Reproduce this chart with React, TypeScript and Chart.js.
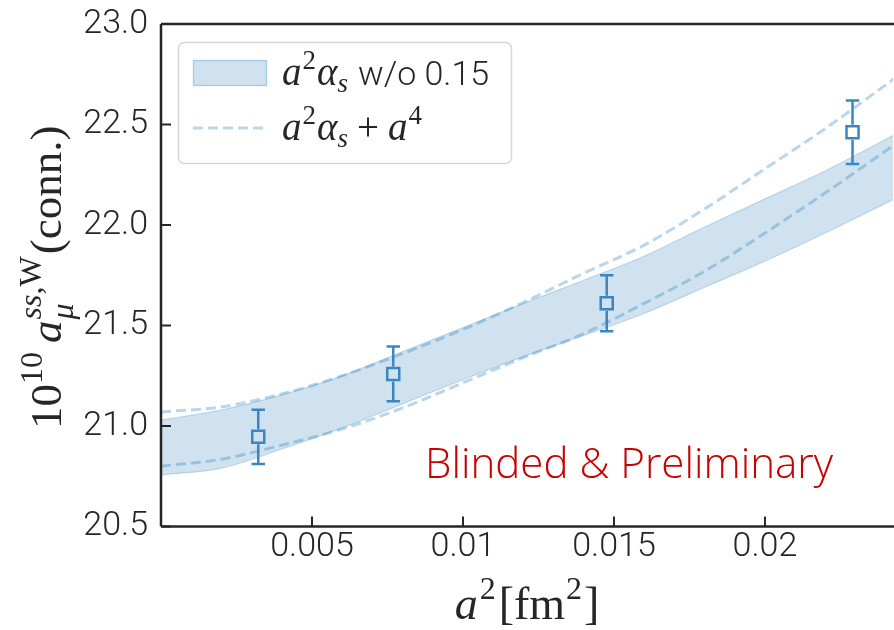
import React, { useEffect, useRef } from "react";
import { Chart, registerables } from "chart.js";

Chart.register(...registerables);

// ---- data ----
const fitX = [0, 0.002, 0.004, 0.006, 0.008, 0.01, 0.012, 0.014, 0.016, 0.018, 0.02, 0.022, 0.0243];
const bandUpper = [21.03, 21.08, 21.155, 21.25, 21.37, 21.49, 21.61, 21.725, 21.845, 21.99, 22.13, 22.27, 22.45];
const bandLower = [20.756, 20.79, 20.885, 20.99, 21.11, 21.23, 21.345, 21.45, 21.56, 21.69, 21.82, 21.96, 22.13];
const a4Upper = [21.07, 21.095, 21.16, 21.25, 21.36, 21.48, 21.615, 21.76, 21.9, 22.08, 22.28, 22.48, 22.73];
const a4Lower = [20.8, 20.835, 20.905, 20.985, 21.09, 21.215, 21.34, 21.46, 21.61, 21.77, 21.96, 22.16, 22.4];

const pointX = [0.00322, 0.00769, 0.01476, 0.0229];
const pointY = [20.946, 21.259, 21.611, 22.461];
const pointErr = [0.135, 0.136, 0.139, 0.158];

const xTicks = [0.005, 0.01, 0.015, 0.02];
const xTickLabels = ["0.005", "0.01", "0.015", "0.02"];
const yTicks = [20.5, 21.0, 21.5, 22.0, 22.5, 23.0];
const yTickLabels = ["20.5", "21.0", "21.5", "22.0", "22.5", "23.0"];

const legendBand = "w/o 0.15";
const watermark = "Blinded & Preliminary";

// ---- styles ----
const SANS = "Roboto";
const SERIF = '"Liberation Serif"';
const INK = "#262626";
const PT_COLOR = "#3a86c1";

type Seg = { t: string; f: string; dy?: number; pre?: number; post?: number; zero?: boolean };

function drawRich(ctx: CanvasRenderingContext2D, segs: Seg[], x: number, y: number, align: "left" | "center") {
  const widths = segs.map((s) => {
    ctx.font = s.f;
    const w = ctx.measureText(s.t).width;
    return s.zero ? 0 : (s.pre || 0) + w + (s.post || 0);
  });
  const total = widths.reduce((a, b) => a + b, 0);
  let cx = align === "center" ? x - total / 2 : x;
  ctx.textAlign = "left";
  ctx.textBaseline = "alphabetic";
  segs.forEach((s, i) => {
    ctx.font = s.f;
    ctx.fillText(s.t, cx + (s.pre || 0), y + (s.dy || 0));
    cx += widths[i];
  });
}

function roundRect(ctx: CanvasRenderingContext2D, x: number, y: number, w: number, h: number, r: number) {
  ctx.beginPath();
  ctx.moveTo(x + r, y);
  ctx.lineTo(x + w - r, y);
  ctx.arcTo(x + w, y, x + w, y + r, r);
  ctx.lineTo(x + w, y + h - r);
  ctx.arcTo(x + w, y + h, x + w - r, y + h, r);
  ctx.lineTo(x + r, y + h);
  ctx.arcTo(x, y + h, x, y + h - r, r);
  ctx.lineTo(x, y + r);
  ctx.arcTo(x, y, x + r, y, r);
  ctx.closePath();
}

const decor = {
  id: "decor",
  afterDatasetsDraw(chart: any) {
    const ctx: CanvasRenderingContext2D = chart.ctx;
    const xs = chart.scales.x;
    const ys = chart.scales.y;
    ctx.save();
    ctx.strokeStyle = PT_COLOR;
    ctx.lineWidth = 2.5;
    const half = 7.5;
    pointX.forEach((px, i) => {
      const x = xs.getPixelForValue(px);
      const yt = ys.getPixelForValue(pointY[i] + pointErr[i]);
      const yb = ys.getPixelForValue(pointY[i] - pointErr[i]);
      const yc = ys.getPixelForValue(pointY[i]);
      ctx.beginPath();
      ctx.moveTo(x, yt);
      ctx.lineTo(x, yc - half);
      ctx.moveTo(x, yc + half);
      ctx.lineTo(x, yb);
      ctx.moveTo(x - 6.7, yt);
      ctx.lineTo(x + 6.7, yt);
      ctx.moveTo(x - 6.7, yb);
      ctx.lineTo(x + 6.7, yb);
      ctx.stroke();
    });
    ctx.restore();
  },
  afterDraw(chart: any) {
    const ctx: CanvasRenderingContext2D = chart.ctx;
    const a = chart.chartArea;
    const xs = chart.scales.x;
    const ys = chart.scales.y;
    ctx.save();
    // spines
    ctx.strokeStyle = INK;
    ctx.lineWidth = 2.5;
    ctx.beginPath();
    ctx.moveTo(a.left, a.top);
    ctx.lineTo(a.right + 2, a.top);
    ctx.moveTo(a.left, a.top);
    ctx.lineTo(a.left, a.bottom);
    ctx.moveTo(a.left, a.bottom);
    ctx.lineTo(a.right + 2, a.bottom);
    ctx.stroke();
    // inward ticks
    ctx.lineWidth = 2;
    ctx.beginPath();
    ys.ticks.forEach((t: any) => {
      const y = ys.getPixelForValue(t.value);
      ctx.moveTo(a.left, y);
      ctx.lineTo(a.left + 10, y);
    });
    xs.ticks.forEach((t: any) => {
      const x = xs.getPixelForValue(t.value);
      ctx.moveTo(x, a.bottom);
      ctx.lineTo(x, a.bottom - 10);
    });
    ctx.stroke();

    ctx.fillStyle = INK;
    // x axis title
    const S = 46, s = 32;
    drawRich(
      ctx,
      [
        { t: "a", f: `italic ${S}px ${SERIF}` },
        { t: "2", f: `${s}px ${SERIF}`, dy: -20, pre: 2 },
        { t: "[fm", f: `${S}px ${SERIF}`, pre: 3 },
        { t: "2", f: `${s}px ${SERIF}`, dy: -20, pre: 1 },
        { t: "]", f: `${S}px ${SERIF}`, pre: 2 },
      ],
      (a.left + a.right) / 2,
      619,
      "center"
    );
    // y axis title
    ctx.save();
    ctx.translate(61, (a.top + a.bottom) / 2 + 2);
    ctx.rotate(-Math.PI / 2);
    const Y = 45, y2 = 32;
    drawRich(
      ctx,
      [
        { t: "10", f: `${Y}px ${SERIF}` },
        { t: "10", f: `${y2}px ${SERIF}`, dy: -19, post: 9 },
        { t: "a", f: `italic ${Y}px ${SERIF}`, post: 1 },
        { t: "\u03bc", f: `italic ${y2}px ${SERIF}`, dy: 12, zero: true },
        { t: "ss", f: `italic ${y2}px ${SERIF}`, dy: -20 },
        { t: ",W", f: `${y2}px ${SERIF}`, dy: -20, post: 2 },
        { t: "(conn.)", f: `${Y}px ${SERIF}` },
      ],
      0,
      0,
      "center"
    );
    ctx.restore();

    // legend
    ctx.fillStyle = "rgba(255,255,255,0.85)";
    roundRect(ctx, 178.5, 42.5, 333, 121, 6);
    ctx.fill();
    ctx.strokeStyle = "#d6d6d6";
    ctx.lineWidth = 1.5;
    ctx.stroke();
    ctx.fillStyle = "rgba(31,119,180,0.21)";
    ctx.fillRect(193, 60, 74, 26);
    ctx.strokeStyle = "rgba(31,119,180,0.22)";
    ctx.lineWidth = 1.5;
    ctx.strokeRect(193.5, 60.5, 73, 25);
    ctx.strokeStyle = "rgba(31,119,180,0.3)";
    ctx.lineWidth = 3;
    ctx.setLineDash([10, 5]);
    ctx.beginPath();
    ctx.moveTo(193, 128);
    ctx.lineTo(267, 128);
    ctx.stroke();
    ctx.setLineDash([]);

    const M = 39, m = 27;
    const math: Seg[] = [
      { t: "a", f: `italic ${M}px ${SERIF}` },
      { t: "2", f: `${m}px ${SERIF}`, dy: -16, pre: 1 },
      { t: "\u03b1", f: `italic ${M}px ${SERIF}`, pre: 1 },
      { t: "s", f: `italic ${m}px ${SERIF}`, dy: 7 },
    ];
    ctx.fillStyle = INK;
    drawRich(ctx, [...math, { t: legendBand, f: `300 34px ${SANS}`, pre: 10 }], 282, 85, "left");
    drawRich(
      ctx,
      [
        ...math,
        { t: "+", f: `${M}px ${SERIF}`, pre: 9, post: 9 },
        { t: "a", f: `italic ${M}px ${SERIF}` },
        { t: "4", f: `${m}px ${SERIF}`, dy: -16, pre: 1 },
      ],
      282,
      140,
      "left"
    );

    // watermark
    ctx.fillStyle = "rgb(200,0,0)";
    ctx.textAlign = "left";
    ctx.textBaseline = "alphabetic";
    ctx.font = `300 42px "Open Sans"`;
    const w = ctx.measureText(watermark).width;
    const size = 42 * (408 / w);
    ctx.font = `300 ${size}px "Open Sans"`;
    ctx.fillText(watermark, 425, 478);
    ctx.restore();
  },
};

export default function App() {
  const ref = useRef<HTMLCanvasElement | null>(null);
  useEffect(() => {
    if (!ref.current) return;
    const line = (xs: number[], ys: number[]) => xs.map((x, i) => ({ x, y: ys[i] }));
    const chart = new Chart(ref.current, {
      type: "line",
      data: {
        datasets: [
          {
            label: "band upper",
            data: line(fitX, bandUpper),
            borderColor: "rgba(31,119,180,0.22)",
            borderWidth: 1.2,
            backgroundColor: "rgba(31,119,180,0.21)",
            fill: "+1",
            pointRadius: 0,
            cubicInterpolationMode: "monotone",
            order: 3,
          },
          {
            label: "band lower",
            data: line(fitX, bandLower),
            borderColor: "rgba(31,119,180,0.22)",
            borderWidth: 1.2,
            fill: false,
            pointRadius: 0,
            cubicInterpolationMode: "monotone",
            order: 3,
          },
          {
            label: "a4 upper",
            data: line(fitX, a4Upper),
            borderColor: "rgba(31,119,180,0.3)",
            borderWidth: 3,
            borderDash: [10, 5],
            fill: false,
            pointRadius: 0,
            cubicInterpolationMode: "monotone",
            order: 2,
          },
          {
            label: "a4 lower",
            data: line(fitX, a4Lower),
            borderColor: "rgba(31,119,180,0.3)",
            borderWidth: 3,
            borderDash: [10, 5],
            fill: false,
            pointRadius: 0,
            cubicInterpolationMode: "monotone",
            order: 2,
          },
          {
            label: "data",
            data: line(pointX, pointY),
            showLine: false,
            pointStyle: "rect",
            pointRadius: 8.5,
            pointBorderWidth: 2.5,
            pointBorderColor: PT_COLOR,
            pointBackgroundColor: "rgba(0,0,0,0)",
            order: 0,
          } as any,
        ],
      },
      options: {
        animation: false,
        responsive: false,
        maintainAspectRatio: false,
        layout: { autoPadding: false, padding: { left: 0, top: 24, right: 1, bottom: 0 } },
        plugins: { legend: { display: false }, tooltip: { enabled: false } },
        scales: {
          x: {
            type: "linear",
            min: 0,
            max: 0.02424,
            grid: { display: false, drawTicks: false },
            border: { display: false },
            afterBuildTicks: (scale: any) => {
              scale.ticks = xTicks.map((v) => ({ value: v }));
            },
            afterFit: (scale: any) => {
              scale.height = 103.5;
              scale.paddingLeft = 0;
              scale.paddingRight = 0;
              scale.paddingTop = 0;
              scale.paddingBottom = 0;
            },
            ticks: {
              padding: 1,
              color: INK,
              font: { family: SANS, size: 34, weight: "300" },
              maxRotation: 0,
              autoSkip: false,
              callback: (_v: any, i: number) => xTickLabels[i],
            },
          },
          y: {
            type: "linear",
            min: 20.5,
            max: 23.0,
            grid: { display: false, drawTicks: false },
            border: { display: false },
            afterBuildTicks: (scale: any) => {
              scale.ticks = yTicks.map((v) => ({ value: v }));
            },
            afterFit: (scale: any) => {
              scale.width = 161;
              scale.paddingLeft = 0;
              scale.paddingRight = 0;
              scale.paddingTop = 0;
              scale.paddingBottom = 0;
            },
            ticks: {
              padding: 13,
              color: INK,
              font: { family: SANS, size: 34, weight: "300" },
              autoSkip: false,
              callback: (_v: any, i: number) => yTickLabels[i],
            },
          },
        },
      },
      plugins: [decor],
    } as any);
    return () => chart.destroy();
  }, []);
  return (
    <div style={{ position: "fixed", left: 0, top: 0, width: 894, height: 630, background: "#fff" }}>
      <canvas ref={ref} width={894} height={630} style={{ display: "block", width: 894, height: 630 }} />
    </div>
  );
}
